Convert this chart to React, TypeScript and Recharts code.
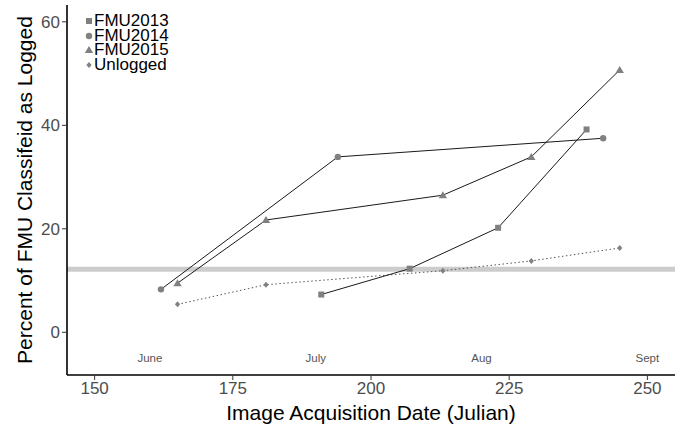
import { ComposedChart, Scatter, XAxis, YAxis, ReferenceLine, Legend } from 'recharts';

const days2013 = [191, 207, 223, 239];
const pct2013 = [7.3, 12.3, 20.2, 39.2];
const days2014 = [162, 194, 242];
const pct2014 = [8.3, 33.9, 37.5];
const days2015 = [165, 181, 213, 229, 245];
const pct2015 = [9.5, 21.7, 26.5, 33.9, 50.7];
const daysUnlogged = [165, 181, 213, 229, 245];
const pctUnlogged = [5.4, 9.2, 11.9, 13.8, 16.3];
const threshold = 12.2;

const monthNames = ['June', 'July', 'Aug', 'Sept'];
const monthDays = [160, 190, 220, 250];
const monthLevel = -5;

const xTicks = [150, 175, 200, 225, 250];
const yTicks = [0, 20, 40, 60];

const toPoints = (xs: number[], ys: number[]) => xs.map((x, i) => ({ x, y: ys[i] }));
const monthData = monthNames.map((name, i) => ({ x: monthDays[i], y: monthLevel, name }));

const FONT = '"Liberation Sans", Arial, sans-serif';
const MARK = '#808080';

const Square = ({ cx, cy }: any) => <rect x={cx - 3} y={cy - 3} width={6} height={6} fill={MARK} />;
const Dot = ({ cx, cy }: any) => <circle cx={cx} cy={cy} r={3.2} fill={MARK} />;
const Tri = ({ cx, cy }: any) => (
  <polygon points={`${cx},${cy - 4} ${cx - 4.2},${cy + 3} ${cx + 4.2},${cy + 3}`} fill={MARK} />
);
const Diamond = ({ cx, cy }: any) => (
  <polygon points={`${cx},${cy - 3} ${cx + 2.6},${cy} ${cx},${cy + 3} ${cx - 2.6},${cy}`} fill={MARK} />
);
const MonthText = ({ cx, cy, payload }: any) => (
  <text x={cx} y={cy} textAnchor="middle" dominantBaseline="central" fontSize={11.5} fill="#555" fontFamily={FONT}>
    {payload.name}
  </text>
);

const series = [
  { name: 'FMU2013', Icon: Square },
  { name: 'FMU2014', Icon: Dot },
  { name: 'FMU2015', Icon: Tri },
  { name: 'Unlogged', Icon: Diamond },
];

const LegendBox = () => (
  <div style={{ fontFamily: FONT, fontSize: 17, lineHeight: '14.5px', color: '#000' }}>
    {series.map(({ name, Icon }) => (
      <div key={name} style={{ display: 'flex', alignItems: 'center' }}>
        <svg width={10} height={10} style={{ marginRight: 0 }}>
          <Icon cx={5} cy={5} />
        </svg>
        <span>{name}</span>
      </div>
    ))}
  </div>
);

const YTitle = ({ viewBox }: any) => (
  <text
    x={24}
    y={viewBox.y + viewBox.height / 2}
    transform={`rotate(-90, 24, ${viewBox.y + viewBox.height / 2})`}
    textAnchor="middle"
    dominantBaseline="central"
    fontSize={21}
    fontFamily={FONT}
    fill="#000"
  >
    Percent of FMU Classifeid as Logged
  </text>
);

const XTitle = ({ viewBox }: any) => (
  <text
    x={viewBox.x + viewBox.width / 2}
    y={412}
    textAnchor="middle"
    dominantBaseline="central"
    fontSize={21}
    fontFamily={FONT}
    fill="#000"
  >
    Image Acquisition Date (Julian)
  </text>
);

export default function App() {
  return (
    <div style={{ position: 'absolute', left: 0, top: 0, background: '#fff' }}>
      <ComposedChart width={680} height={424} margin={{ top: 5, right: 5, bottom: 0, left: 0 }}>
        <XAxis
          type="number"
          dataKey="x"
          domain={[145, 255]}
          ticks={xTicks}
          allowDataOverflow
          height={49}
          axisLine={{ stroke: '#000', strokeWidth: 1.6 }}
          tickLine={{ stroke: '#333' }}
          tickSize={5}
          tick={{ fontSize: 17, fill: '#4d4d4d', fontFamily: FONT }}
          label={<XTitle />}
        />
        <YAxis
          type="number"
          dataKey="y"
          domain={[-8.25, 63.25]}
          ticks={yTicks}
          allowDataOverflow
          width={67}
          axisLine={{ stroke: '#000', strokeWidth: 1.6 }}
          tickLine={{ stroke: '#333' }}
          tickSize={5}
          tick={{ fontSize: 17, fill: '#4d4d4d', fontFamily: FONT }}
          label={<YTitle />}
        />
        <ReferenceLine y={threshold} stroke="#cccccc" strokeWidth={5} />
        <Legend
          layout="vertical"
          align="center"
          verticalAlign="middle"
          wrapperStyle={{ top: 14, left: 84, width: 'auto' }}
          content={<LegendBox />}
        />
        <Scatter
          name="Unlogged"
          data={toPoints(daysUnlogged, pctUnlogged)}
          shape={<Diamond />}
          line={{ stroke: '#555', strokeWidth: 1, strokeDasharray: '1.5 2.5' }}
          isAnimationActive={false}
        />
        <Scatter
          name="FMU2013"
          data={toPoints(days2013, pct2013)}
          shape={<Square />}
          line={{ stroke: '#1a1a1a', strokeWidth: 1 }}
          isAnimationActive={false}
        />
        <Scatter
          name="FMU2014"
          data={toPoints(days2014, pct2014)}
          shape={<Dot />}
          line={{ stroke: '#1a1a1a', strokeWidth: 1 }}
          isAnimationActive={false}
        />
        <Scatter
          name="FMU2015"
          data={toPoints(days2015, pct2015)}
          shape={<Tri />}
          line={{ stroke: '#1a1a1a', strokeWidth: 1 }}
          isAnimationActive={false}
        />
        <Scatter
          name="months"
          data={monthData}
          shape={<MonthText />}
          legendType="none"
          isAnimationActive={false}
        />
      </ComposedChart>
    </div>
  );
}
